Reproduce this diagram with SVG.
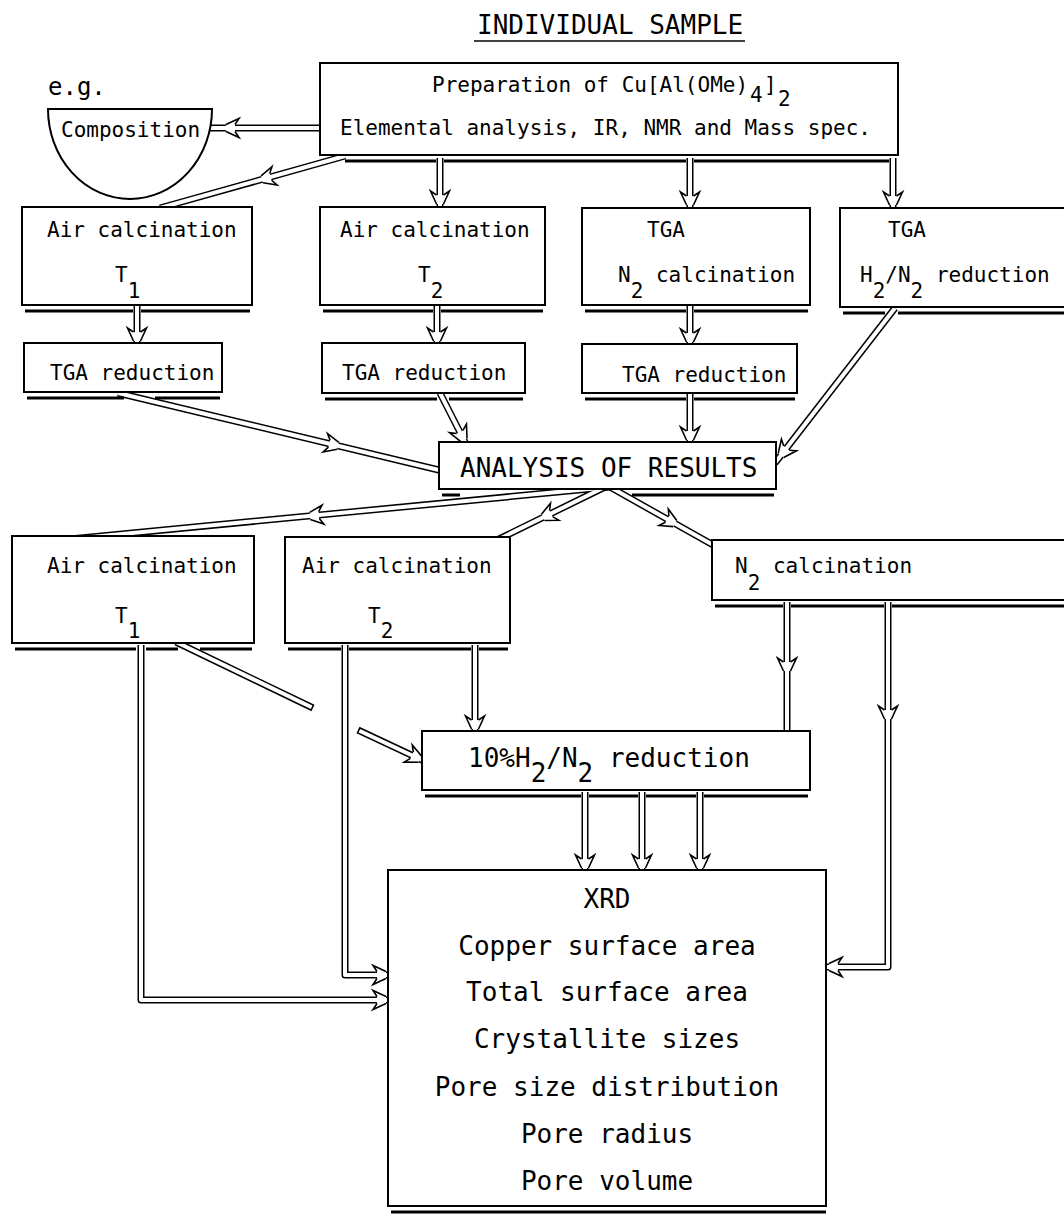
<svg xmlns="http://www.w3.org/2000/svg" xmlns:xlink="http://www.w3.org/1999/xlink" width="1064" height="1221" viewBox="0 0 1064 1221">
<style>
.box{fill:#fff;stroke:#000;stroke-width:2}
.sh{stroke:#000;stroke-width:3;fill:none}
.u{font-family:"DejaVu Sans Mono","Liberation Mono",monospace;font-size:21px;fill:#000}
.m{font-family:"DejaVu Sans Mono","Liberation Mono",monospace;font-size:26px;fill:#000}
.co{stroke:#000;stroke-width:7;fill:none;stroke-linejoin:round}
.ci{stroke:#fff;stroke-width:4;fill:none;stroke-linejoin:round}
</style>
<defs>
<path id="c1" d="M325,128 H208"/>
<path id="c2" d="M345,156 L160,208"/>
<path id="c3" d="M440,158 V209"/>
<path id="c4" d="M690,158 V210"/>
<path id="c5" d="M893,158 V210"/>
<path id="c6" d="M137,306 V345"/>
<path id="c7" d="M437,306 V345"/>
<path id="c8" d="M690,306 V346"/>
<path id="c9" d="M118,393 L445,471.5"/>
<path id="c10" d="M440,393 L468,448"/>
<path id="c11" d="M690,394 V444"/>
<path id="c12" d="M895,308 L775,463"/>
<path id="c13" d="M610,487 L60,540"/>
<path id="c14" d="M605,487 L497,540"/>
<path id="c15" d="M610,487 L722,550"/>
<path id="c16" d="M141,645 V1000 H390"/>
<path id="c17" d="M345,645 V975 H390"/>
<path id="c18" d="M176,642 L313,708"/>
<path id="c18i" d="M176,642 L311.6,707.3"/>
<path id="c19" d="M358,730 L424,761"/>
<path id="c19i" d="M359.4,730.7 L424,761"/>
<path id="c20" d="M475,645 V733"/>
<path id="c21" d="M787,602 V734"/>
<path id="c22" d="M888,602 V967 H824"/>
<path id="c23" d="M585,792 V872"/>
<path id="c24" d="M642,792 V872"/>
<path id="c25" d="M700,792 V872"/>
<g id="ah">
<path d="M-9,-3.5 L-13,-9.5 L0,-3.5 L0,3.5 L-13,9.5 L-9,3.5 Z" fill="#fff"/>
<path d="M-9,-3.5 L-13,-9.5 L0,-3.5 M0,3.5 L-13,9.5 L-9,3.5" fill="none" stroke="#000" stroke-width="1.6"/>
</g>
</defs>
<rect width="1064" height="1221" fill="#fff"/>

<g id="title">
<text class="m" x="477" y="34">INDIVIDUAL SAMPLE</text>
<line x1="474" y1="41" x2="745" y2="41" stroke="#000" stroke-width="1.5"/>
</g>

<g id="connectors">
<g class="co">
<use href="#c1"/><use href="#c2"/><use href="#c3"/><use href="#c4"/><use href="#c5"/>
<use href="#c6"/><use href="#c7"/><use href="#c8"/><use href="#c9"/><use href="#c10"/>
<use href="#c11"/><use href="#c12"/><use href="#c13"/><use href="#c14"/><use href="#c15"/>
<use href="#c16"/><use href="#c17"/><use href="#c18"/><use href="#c19"/><use href="#c20"/>
<use href="#c21"/><use href="#c22"/><use href="#c23"/><use href="#c24"/><use href="#c25"/>
</g>
<g class="ci">
<use href="#c1"/><use href="#c2"/><use href="#c3"/><use href="#c4"/><use href="#c5"/>
<use href="#c6"/><use href="#c7"/><use href="#c8"/><use href="#c9"/><use href="#c10"/>
<use href="#c11"/><use href="#c12"/><use href="#c13"/><use href="#c14"/><use href="#c15"/>
<use href="#c16"/><use href="#c17"/><use href="#c18i"/><use href="#c19i"/><use href="#c20"/>
<use href="#c21"/><use href="#c22"/><use href="#c23"/><use href="#c24"/><use href="#c25"/>
</g>
<use href="#ah" transform="translate(226,128) rotate(180)"/>
<use href="#ah" transform="translate(262,179.3) rotate(164.3)"/>
<use href="#ah" transform="translate(440,204) rotate(90)"/>
<use href="#ah" transform="translate(690,205) rotate(90)"/>
<use href="#ah" transform="translate(893,205) rotate(90)"/>
<use href="#ah" transform="translate(137,341) rotate(90)"/>
<use href="#ah" transform="translate(437,341) rotate(90)"/>
<use href="#ah" transform="translate(690,342) rotate(90)"/>
<use href="#ah" transform="translate(338,445.8) rotate(13.5)"/>
<use href="#ah" transform="translate(463.9,440) rotate(63)"/>
<use href="#ah" transform="translate(690,440) rotate(90)"/>
<use href="#ah" transform="translate(781,455.3) rotate(127.7)"/>
<use href="#ah" transform="translate(310,515.9) rotate(174.5)"/>
<use href="#ah" transform="translate(543,517.4) rotate(153.9)"/>
<use href="#ah" transform="translate(675,523.6) rotate(29.4)"/>
<use href="#ah" transform="translate(386,1000)"/>
<use href="#ah" transform="translate(386,975)"/>
<use href="#ah" transform="translate(420,759.1) rotate(25.2)"/>
<use href="#ah" transform="translate(475,729) rotate(90)"/>
<use href="#ah" transform="translate(787,671) rotate(90)"/>
<use href="#ah" transform="translate(888,719) rotate(90)"/>
<use href="#ah" transform="translate(829,967) rotate(180)"/>
<use href="#ah" transform="translate(585,868) rotate(90)"/>
<use href="#ah" transform="translate(642,868) rotate(90)"/>
<use href="#ah" transform="translate(700,868) rotate(90)"/>
</g>

<g id="composition">
<text class="m" x="48" y="95" style="font-size:24px">e.g.</text>
<path class="box" d="M48,109 H212 A82,90 0 0 1 48,109 Z"/>
<text class="u" x="61" y="137">Composition</text>
</g>

<g id="preparation">
<rect class="box" x="320" y="63" width="578" height="92"/>
<path class="sh" d="M345,161 H436 M444,161 H686 M694,161 H889"/>
<text class="u" x="432" y="92">Preparation of Cu[Al(OMe)</text>
<text class="u" x="750" y="102">4</text>
<text class="u" x="764" y="92">]</text>
<text class="u" x="778" y="106">2</text>
<text class="u" x="340" y="135">Elemental analysis, IR, NMR and Mass spec.</text>
</g>

<g id="air-t1-top">
<rect class="box" x="22" y="207" width="230" height="98"/>
<path class="sh" d="M25,311 H133 M141,311 H250"/>
<text class="u" x="47" y="237">Air calcination</text>
<text class="u" x="115" y="282">T<tspan dy="16">1</tspan></text>
</g>

<g id="air-t2-top">
<rect class="box" x="320" y="207" width="225" height="98"/>
<path class="sh" d="M323,311 H433 M441,311 H543"/>
<text class="u" x="340" y="237">Air calcination</text>
<text class="u" x="418" y="282">T<tspan dy="16">2</tspan></text>
</g>

<g id="tga-n2">
<rect class="box" x="582" y="208" width="228" height="97"/>
<path class="sh" d="M585,311 H686 M694,311 H808"/>
<text class="u" x="647" y="237">TGA</text>
<text class="u" x="618" y="282">N<tspan dy="16">2</tspan><tspan dy="-16"> calcination</tspan></text>
</g>

<g id="tga-h2n2">
<rect class="box" x="840" y="208" width="230" height="99"/>
<path class="sh" d="M843,313 H885 M898,313 H1064"/>
<text class="u" x="888" y="237">TGA</text>
<text class="u" x="860" y="282">H<tspan dy="16">2</tspan><tspan dy="-16">/N</tspan><tspan dy="16">2</tspan><tspan dy="-16"> reduction</tspan></text>
</g>

<g id="tga-red-1">
<rect class="box" x="24" y="343" width="198" height="49"/>
<path class="sh" d="M27,398 H124 M155,398 H220"/>
<text class="u" x="50" y="380">TGA reduction</text>
</g>

<g id="tga-red-2">
<rect class="box" x="322" y="343" width="203" height="50"/>
<path class="sh" d="M325,399 H437 M449,399 H523"/>
<text class="u" x="342" y="380">TGA reduction</text>
</g>

<g id="tga-red-3">
<rect class="box" x="582" y="344" width="215" height="49"/>
<path class="sh" d="M585,399 H686 M694,399 H795"/>
<text class="u" x="622" y="382">TGA reduction</text>
</g>

<g id="analysis">
<rect class="box" x="439" y="442" width="337" height="47"/>
<path class="sh" d="M442,495 H460 M632,495 H774"/>
<text class="m" x="460" y="477">ANALYSIS OF RESULTS</text>
</g>

<g id="air-t1">
<rect class="box" x="12" y="536" width="242" height="107"/>
<path class="sh" d="M15,649 H136 M146,649 H178 M200,649 H252"/>
<text class="u" x="47" y="573">Air calcination</text>
<text class="u" x="115" y="623">T<tspan dy="15">1</tspan></text>
</g>

<g id="air-t2">
<rect class="box" x="285" y="537" width="225" height="106"/>
<path class="sh" d="M288,649 H341 M349,649 H471 M479,649 H508"/>
<text class="u" x="302" y="573">Air calcination</text>
<text class="u" x="368" y="623">T<tspan dy="15">2</tspan></text>
</g>

<g id="n2-calcination">
<rect class="box" x="712" y="540" width="360" height="60"/>
<path class="sh" d="M715,606 H783 M791,606 H884 M892,606 H1064"/>
<text class="u" x="735" y="573">N<tspan dy="17">2</tspan><tspan dy="-17"> calcination</tspan></text>
</g>

<g id="h2n2-reduction">
<rect class="box" x="422" y="731" width="388" height="59"/>
<path class="sh" d="M425,796 H581 M589,796 H638 M646,796 H696 M704,796 H808"/>
<text class="m" x="468" y="767">10%H<tspan dy="15">2</tspan><tspan dy="-15">/N</tspan><tspan dy="15">2</tspan><tspan dy="-15"> reduction</tspan></text>
</g>

<g id="xrd">
<rect class="box" x="388" y="870" width="438" height="336"/>
<path class="sh" d="M391,1212 H826"/>
<g class="m" text-anchor="middle">
<text x="607" y="908">XRD</text>
<text x="607" y="955">Copper surface area</text>
<text x="607" y="1001">Total surface area</text>
<text x="607" y="1048">Crystallite sizes</text>
<text x="607" y="1096">Pore size distribution</text>
<text x="607" y="1143">Pore radius</text>
<text x="607" y="1190">Pore volume</text>
</g>
</g>
</svg>
